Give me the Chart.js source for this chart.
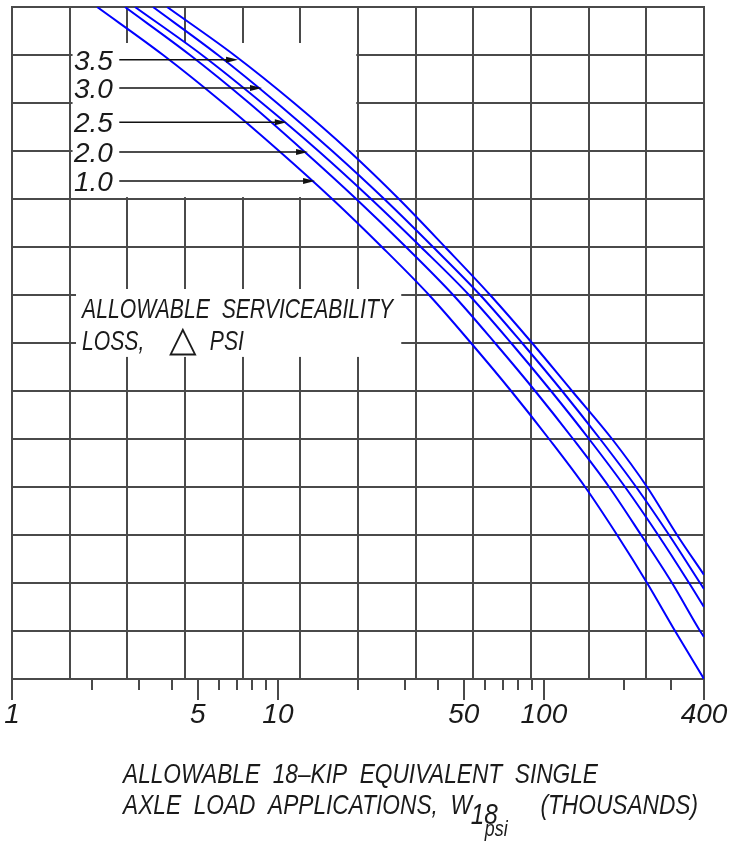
<!DOCTYPE html>
<html>
<head>
<meta charset="utf-8">
<script src="https://cdn.jsdelivr.net/npm/chart.js@4.4.0/dist/chart.umd.min.js"></script>
<style>
  html, body { margin: 0; padding: 0; background: #fff; }
</style>
</head>
<body>
<canvas id="grafico" width="734" height="843"></canvas>
<script>
// Curvas de perda de serventia (ΔPSI) - valores lidos do gráfico
// eixo x: aplicações W18 (milhares), eixo y: unidades da grade (sem rótulo)
const psi10X = [2.09, 3.70, 6.22, 10.1, 16.0, 24.6, 37.0, 53.2, 75.3, 104.6, 142.9, 188.5, 244.4, 311.4, 400];
const psi10Y = [14, 13, 12, 11, 10, 9, 8, 7, 6, 5, 4, 3, 2, 1, 0];

const psi20X = [2.66, 4.67, 7.79, 12.5, 19.7, 30.3, 45.6, 65.5, 92.7, 128.8, 175.9, 232.0, 303.4, 386.7, 400];
const psi20Y = [14, 13, 12, 11, 10, 9, 8, 7, 6, 5, 4, 3, 2, 1, 0.875];

const psi25X = [2.90, 5.18, 8.71, 14.2, 22.4, 34.5, 52.3, 75.3, 106.4, 147.9, 202.0, 268.9, 351.6, 400];
const psi25Y = [14, 13, 12, 11, 10, 9, 8, 7, 6, 5, 4, 3, 2, 1.5];

const psi30X = [3.39, 5.95, 9.92, 16.0, 25.1, 38.3, 57.6, 82.8, 117.1, 162.7, 222.3, 295.7, 386.7, 400];
const psi30Y = [14, 13, 12, 11, 10, 9, 8, 7, 6, 5, 4, 3, 2, 1.875];

const psi35X = [3.83, 6.84, 11.5, 18.5, 28.5, 42.5, 62.8, 90.3, 127.6, 180.5, 244.4, 316.8, 400];
const psi35Y = [14, 13, 12, 11, 10, 9, 8, 7, 6, 5, 4, 3, 2.17];

// marcas do eixo x
const xTicks = [1, 2, 3, 4, 5, 6, 7, 8, 9, 10, 20, 30, 40, 50, 60, 70, 80, 90, 100, 200, 300, 400];
const xRotulos = [1, 5, 10, 50, 100, 400];

// rótulos das curvas e onde as setas encostam
const rotulosPsi = ['3.5', '3.0', '2.5', '2.0', '1.0'];
const setaY = [12.9, 12.31, 11.6, 10.98, 10.375];
const setaX = [7.08, 8.71, 10.8, 12.98, 13.79];

const corGrade = '#4a4a4a';
const corTexto = '#1a1a1a';
const fonte = '"Liberation Sans", Arial, sans-serif';

function juntar(xs, ys) {
    return xs.map((x, i) => ({ x: x, y: ys[i] }));
}

// escreve texto (itálico por padrão), comprimido na horizontal (estilo ISO de desenho técnico)
function escreve(ctx, str, x, y, tam, sx, alinha, estilo) {
    ctx.save();
    ctx.font = `${estilo || 'italic'} ${tam}px ${fonte}`;
    ctx.fillStyle = corTexto;
    ctx.textBaseline = 'alphabetic';
    ctx.textAlign = alinha || 'left';
    ctx.translate(x, y);
    ctx.scale(sx, 1);
    ctx.fillText(str, 0, 0);
    ctx.restore();
}

function escalaPara(ctx, str, tam, largura) {
    ctx.save();
    ctx.font = `italic ${tam}px ${fonte}`;
    const w = ctx.measureText(str).width;
    ctx.restore();
    return largura / w;
}

const anotacoes = {
    id: 'anotacoes',
    beforeDatasetsDraw(chart) {
        const ctx = chart.ctx;
        const g = chart.scales.xg;
        const y = chart.scales.y;
        ctx.save();
        ctx.fillStyle = '#ffffff';
        // caixa dos rótulos das curvas
        let x0 = g.getPixelForValue(1.05), x1 = g.getPixelForValue(5.97);
        let y0 = y.getPixelForValue(13.25), y1 = y.getPixelForValue(10.04);
        ctx.fillRect(x0, y0, x1 - x0, y1 - y0);
        // caixa do título interno
        x0 = g.getPixelForValue(1.11); x1 = g.getPixelForValue(6.75);
        y0 = y.getPixelForValue(8.125); y1 = y.getPixelForValue(6.71);
        ctx.fillRect(x0, y0, x1 - x0, y1 - y0);
        ctx.restore();
    },
    afterDatasetsDraw(chart) {
        const ctx = chart.ctx;
        const g = chart.scales.xg;
        const x = chart.scales.x;
        const y = chart.scales.y;

        // setas e rótulos
        rotulosPsi.forEach((r, i) => {
            const py = y.getPixelForValue(setaY[i]);
            const pInicio = g.getPixelForValue(1.86);
            const pFim = x.getPixelForValue(setaX[i]);
            ctx.save();
            ctx.strokeStyle = '#111';
            ctx.fillStyle = '#111';
            ctx.lineWidth = 1.5;
            ctx.beginPath();
            ctx.moveTo(pInicio, py);
            ctx.lineTo(pFim - 8, py);
            ctx.stroke();
            ctx.beginPath();
            ctx.moveTo(pFim, py);
            ctx.lineTo(pFim - 12, py - 3);
            ctx.lineTo(pFim - 12, py + 3);
            ctx.closePath();
            ctx.fill();
            ctx.restore();
            escreve(ctx, r, g.getPixelForValue(1.75), py + 10, 28, 1, 'right');
        });

        // título interno
        const lx = g.getPixelForValue(1.214);
        const sx = escalaPara(ctx, 'ALLOWABLE  SERVICEABILITY', 28, 311);
        escreve(ctx, 'ALLOWABLE  SERVICEABILITY', lx, y.getPixelForValue(7.52), 28, sx);
        const by = y.getPixelForValue(6.854);
        escreve(ctx, 'LOSS,', lx, by, 28, sx);
        escreve(ctx, '△', g.getPixelForValue(2.73), by + 1, 36, 1, 'left', 'normal');
        escreve(ctx, 'PSI', g.getPixelForValue(3.43), by, 28, sx);
    },
    afterDraw(chart) {
        const ctx = chart.ctx;
        const x = chart.scales.x;
        const base = chart.chartArea.bottom;
        // marcas principais mais longas
        ctx.save();
        ctx.strokeStyle = corGrade;
        ctx.lineWidth = 2;
        xRotulos.forEach(v => {
            const px = Math.round(x.getPixelForValue(v));
            ctx.beginPath();
            ctx.moveTo(px, base);
            ctx.lineTo(px, base + 21);
            ctx.stroke();
        });
        ctx.restore();

        // título do eixo x
        const l1 = 'ALLOWABLE  18–KIP  EQUIVALENT  SINGLE';
        const sx = escalaPara(ctx, l1, 28, 475);
        escreve(ctx, l1, 123, 783, 28, sx);
        const l2 = 'AXLE  LOAD  APPLICATIONS,  W';
        escreve(ctx, l2, 123, 814, 28, sx);
        ctx.save();
        ctx.font = `italic 28px ${fonte}`;
        const fimW = 123 + ctx.measureText(l2).width * sx;
        ctx.restore();
        escreve(ctx, '18', fimW - 1, 824, 30, sx);
        escreve(ctx, 'psi', fimW + 13, 836, 22, sx);
        escreve(ctx, '(THOUSANDS)', 698, 814, 28, sx, 'right');
    }
};

const estiloCurva = {
    borderColor: '#0000ff',
    borderWidth: 2,
    pointRadius: 0,
    fill: false,
    cubicInterpolationMode: 'monotone'
};

new Chart(document.getElementById('grafico').getContext('2d'), {
    type: 'line',
    data: {
        datasets: [
            { label: '1.0', data: juntar(psi10X, psi10Y), ...estiloCurva },
            { label: '2.0', data: juntar(psi20X, psi20Y), ...estiloCurva },
            { label: '2.5', data: juntar(psi25X, psi25Y), ...estiloCurva },
            { label: '3.0', data: juntar(psi30X, psi30Y), ...estiloCurva },
            { label: '3.5', data: juntar(psi35X, psi35Y), ...estiloCurva }
        ]
    },
    options: {
        responsive: false,
        animation: false,
        devicePixelRatio: 1,
        layout: { padding: { left: 12, right: 30, top: 7, bottom: 0 } },
        plugins: { legend: { display: false }, tooltip: { enabled: false } },
        scales: {
            x: {
                type: 'logarithmic',
                position: 'bottom',
                min: 1,
                max: 400,
                afterBuildTicks: (scale) => {
                    scale.ticks = xTicks.map(v => ({ value: v }));
                },
                afterFit: (scale) => {
                    scale.height = 164;
                    scale.paddingLeft = 0;
                    scale.paddingRight = 0;
                },
                grid: { drawOnChartArea: false, drawTicks: true, tickLength: 11, color: corGrade, lineWidth: 2 },
                border: { display: true, color: corGrade, width: 2 },
                ticks: {
                    autoSkip: false,
                    maxRotation: 0,
                    padding: 8,
                    color: corTexto,
                    font: { family: fonte, size: 28, style: 'italic' },
                    callback: (v) => xRotulos.includes(v) ? String(v) : ''
                }
            },
            xg: {
                type: 'linear',
                position: 'top',
                min: 0,
                max: 12,
                ticks: { display: false, stepSize: 1 },
                grid: { drawTicks: false, color: corGrade, lineWidth: 2 },
                border: { display: true, color: corGrade, width: 2 }
            },
            y: {
                type: 'linear',
                min: 0,
                max: 14,
                ticks: { display: false, stepSize: 1 },
                grid: { drawTicks: false, color: corGrade, lineWidth: 2 },
                border: { display: true, color: corGrade, width: 2 }
            }
        }
    },
    plugins: [anotacoes]
});
</script>
</body>
</html>
